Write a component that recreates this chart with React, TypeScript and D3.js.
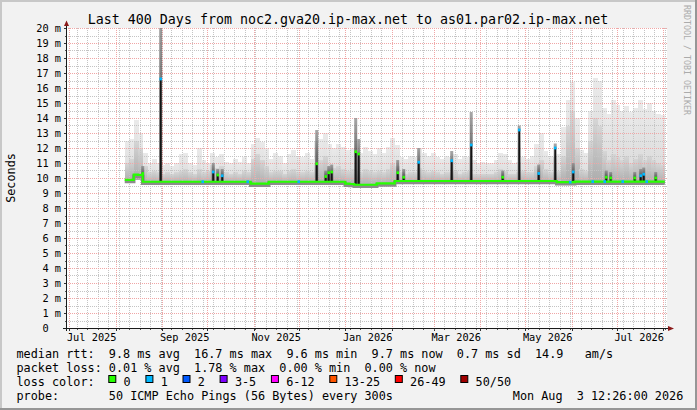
import React from 'react';
import * as d3 from 'd3';

// Last 400 days, ending Mon Aug 3 12:26:00 2026
const DAY = 86400000;
const END = Date.UTC(2026, 7, 3, 12, 26);
const START = END - 400 * DAY;

const title = 'Last 400 Days from noc2.gva20.ip-max.net to as01.par02.ip-max.net';

// y axis (milliseconds)
const yTicks = [0, 1, 2, 3, 4, 5, 6, 7, 8, 9, 10, 11, 12, 13, 14, 15, 16, 17, 18, 19, 20];

// x axis labels (every second month)
const xLabelMonths = ['2025-07-01', '2025-09-01', '2025-11-01', '2026-01-01', '2026-03-01', '2026-05-01', '2026-07-01'];

// smoke samples, one every 3 days from this date
const sampleStart = '2025-08-07';
const sampleStepDays = 3;

// median rtt per sample (ms)
const median = [
  9.87, 9.87, 10.22, 10.2, 9.75, 9.75, 9.75, 9.75, 9.75, 9.75,
  9.75, 9.75, 9.75, 9.75, 9.75, 9.75, 9.75, 9.75, 9.75, 9.75,
  9.75, 9.75, 9.75, 9.75, 9.75, 9.75, 9.75, 9.75, 9.62, 9.62,
  9.62, 9.62, 9.75, 9.75, 9.75, 9.75, 9.75, 9.75, 9.75, 9.75,
  9.75, 9.75, 9.75, 9.75, 9.75, 9.75, 9.75, 9.75, 9.75, 9.62,
  9.6, 9.55, 9.55, 9.55, 9.55, 9.55, 9.64, 9.64, 9.64, 9.64,
  9.8, 9.8, 9.8, 9.8, 9.8, 9.8, 9.8, 9.8, 9.8, 9.8,
  9.8, 9.8, 9.8, 9.8, 9.8, 9.8, 9.8, 9.8, 9.8, 9.8,
  9.8, 9.8, 9.8, 9.8, 9.8, 9.8, 9.8, 9.8, 9.8, 9.8,
  9.8, 9.8, 9.8, 9.8, 9.8, 9.8, 9.72, 9.72, 9.72, 9.72,
  9.76, 9.76, 9.76, 9.76, 9.76, 9.76, 9.76, 9.76, 9.76, 9.76,
  9.76, 9.76, 9.76, 9.76, 9.76, 9.76, 9.76, 9.76, 9.76, 9.76,
];

// lowest ping of the smoke per sample
const smokeLow = [
  9.72, 9.72, 9.9, 9.85, 9.58, 9.58, 9.58, 9.58, 9.58, 9.58,
  9.58, 9.58, 9.58, 9.58, 9.58, 9.58, 9.58, 9.58, 9.58, 9.58,
  9.58, 9.58, 9.58, 9.58, 9.58, 9.58, 9.58, 9.58, 9.45, 9.45,
  9.45, 9.45, 9.58, 9.58, 9.58, 9.58, 9.58, 9.58, 9.58, 9.58,
  9.58, 9.58, 9.58, 9.58, 9.58, 9.58, 9.58, 9.58, 9.58, 9.45,
  9.43, 9.38, 9.38, 9.38, 9.38, 9.38, 9.47, 9.47, 9.47, 9.47,
  9.62, 9.62, 9.62, 9.62, 9.62, 9.62, 9.62, 9.62, 9.62, 9.62,
  9.62, 9.62, 9.62, 9.62, 9.62, 9.62, 9.62, 9.62, 9.62, 9.62,
  9.62, 9.62, 9.62, 9.62, 9.62, 9.62, 9.62, 9.62, 9.62, 9.62,
  9.62, 9.62, 9.62, 9.62, 9.62, 9.62, 9.55, 9.55, 9.55, 9.55,
  9.58, 9.58, 9.58, 9.58, 9.58, 9.58, 9.58, 9.58, 9.58, 9.58,
  9.58, 9.58, 9.58, 9.58, 9.58, 9.58, 9.58, 9.58, 9.58, 9.58,
];

// densest part of the smoke per sample
const smokeMid = [
  11.0, 11.3, 12.5, 12.0, 10.8, 10.4, 10.5, 10.4, 10.3, 10.4,
  10.3, 10.4, 10.5, 10.6, 10.4, 10.3, 10.6, 10.4, 10.5, 10.9,
  10.7, 10.8, 10.4, 10.3, 10.4, 10.3, 10.5, 10.4, 11.3, 11.6,
  11.2, 10.8, 10.4, 10.5, 10.5, 10.3, 10.5, 10.6, 10.4, 10.4,
  10.5, 10.4, 11.0, 11.2, 11.5, 10.9, 10.7, 10.8, 10.6, 10.5,
  10.6, 10.5, 10.4, 10.6, 10.5, 10.4, 10.5, 10.4, 10.6, 11.0,
  10.8, 10.4, 10.3, 10.4, 10.4, 10.7, 10.5, 10.4, 10.5, 10.4,
  10.3, 10.4, 10.4, 10.5, 10.3, 10.4, 10.5, 10.3, 10.3, 10.3,
  10.3, 10.3, 10.4, 10.6, 10.5, 10.3, 10.3, 10.4, 10.5, 10.4,
  10.4, 10.8, 11.2, 10.6, 10.4, 10.4, 10.5, 11.5, 13.5, 14.5,
  12.0, 10.6, 10.5, 12.5, 14.0, 13.5, 11.8, 11.2, 11.6, 11.4,
  11.2, 11.5, 11.0, 11.3, 11.6, 11.2, 11.5, 11.2, 11.0, 10.9,
];

// highest ping of the smoke per sample
const smokeTop = [
  12.5, 12.6, 13.9, 13.0, 11.7, 11.0, 11.3, 11.0, 10.9, 11.0,
  10.8, 11.0, 11.6, 11.7, 11.0, 10.9, 12.0, 11.2, 11.0, 11.7,
  11.4, 11.6, 11.1, 11.0, 11.3, 11.1, 11.4, 11.0, 12.3, 12.7,
  12.4, 12.0, 11.3, 11.7, 11.5, 11.0, 11.6, 11.9, 11.5, 11.4,
  11.7, 11.3, 12.5, 12.6, 13.0, 12.3, 12.0, 12.3, 12.1, 11.9,
  12.0, 11.8, 11.7, 12.1, 11.8, 11.6, 12.0, 11.7, 12.1, 12.7,
  12.2, 11.4, 11.3, 11.5, 11.4, 12.0, 11.7, 11.5, 11.7, 11.4,
  11.3, 11.5, 11.4, 11.6, 11.3, 11.5, 11.4, 11.2, 11.0, 11.1,
  11.0, 11.0, 11.2, 11.7, 11.6, 11.2, 11.0, 11.1, 11.4, 11.3,
  11.5, 12.3, 13.0, 11.8, 11.5, 11.4, 11.6, 13.4, 15.2, 16.4,
  14.0, 11.9, 11.7, 14.5, 16.7, 16.5, 14.7, 14.3, 15.2, 14.9,
  14.5, 14.8, 14.4, 14.7, 15.2, 14.6, 15.0, 14.5, 14.3, 14.2,
];

// short median excursions
const spikeDates = [
  '2025-08-19', '2025-08-31', '2025-10-05', '2025-10-08', '2025-10-11',
  '2025-12-13', '2025-12-19', '2025-12-21', '2025-12-23', '2026-01-08',
  '2026-01-10', '2026-02-05', '2026-02-09', '2026-02-19', '2026-03-13',
  '2026-03-26', '2026-04-16', '2026-04-27', '2026-05-10', '2026-05-21',
  '2026-06-02', '2026-06-24', '2026-06-27', '2026-07-13', '2026-07-17',
  '2026-07-19', '2026-07-27',
];
const spikeTop = [
  10.3, 16.6, 10.4, 10.2, 10.15,
  10.95, 10.1, 10.35, 10.4, 11.75,
  11.6, 10.35, 10.05, 11.05, 11.15,
  12.2, 10.05, 13.2, 10.3, 12.0,
  10.4, 10.05, 10.0, 10.0, 10.15,
  10.25, 10.0,
];
const spikeSmoke = [
  10.8, 21.0, 11.0, 10.6, 10.6,
  13.2, 10.5, 10.8, 10.9, 14.0,
  12.6, 11.2, 10.6, 12.0, 11.8,
  14.4, 10.5, 13.5, 10.9, 12.3,
  11.0, 10.5, 10.4, 10.4, 10.6,
  10.7, 10.4,
];
const spikeLoss = [
  0, 1, 1, 0, 1,
  0, 0, 0, 0, 0,
  0, 0, 0, 1, 1,
  1, 0, 1, 1, 1,
  1, 0, 0, 0, 1,
  1, 0,
];

// single lost pings sitting on the median
const lossDotDates = ['2025-09-28', '2025-10-28', '2025-12-01', '2026-05-31', '2026-06-15', '2026-06-23', '2026-07-05', '2026-07-21'];

const lossColors = ['#26ff00', '#00b8ff', '#0059ff', '#7e00ff', '#ff00ff', '#ff5500', '#ff0000', '#a00000'];
const lossLabels = ['0', '1', '2', '3-5', '6-12', '13-25', '26-49', '50/50'];

const legendRtt = 'median rtt:  9.8 ms avg  16.7 ms max  9.6 ms min  9.7 ms now  0.7 ms sd  14.9   am/s';
const legendLoss = 'packet loss: 0.01 % avg  1.78 % max  0.00 % min  0.00 % now';
const legendProbe = 'probe:       50 ICMP Echo Pings (56 Bytes) every 300s';
const legendDate = 'Mon Aug  3 12:26:00 2026';

const W = 697;
const H = 410;
const MONO = '"DejaVu Sans Mono", monospace';
const CHAR = 7.1; // legend glyph advance

const App: React.FC = () => {
  const x = d3.scaleUtc().domain([new Date(START), new Date(END)]).range([67, 667]);
  const y = d3.scaleLinear().domain([0, 20]).range([328, 28]);
  const crisp = (v: number) => Math.round(v) + 0.5;
  const px = (v: number) => Math.round(v);

  const t0 = Date.parse(sampleStart);
  const step = sampleStepDays * DAY;
  const samples = median.map((m, i) => ({
    t: new Date(t0 + i * step),
    t1: new Date(t0 + (i + 1) * step),
    median: m,
    low: smokeLow[i],
    mid: smokeMid[i],
    top: smokeTop[i],
  }));
  const medianAt = (t: number) => {
    const i = Math.max(0, Math.min(median.length - 1, Math.floor((t - t0) / step)));
    return median[i];
  };

  const medianPts: [Date, number][] = samples.map((s) => [s.t, s.median]);
  medianPts.push([samples[samples.length - 1].t1, median[median.length - 1]]);
  const medianLine = d3
    .line<[Date, number]>()
    .x((d) => x(d[0]))
    .y((d) => y(d[1]))
    .curve(d3.curveStepAfter);

  const weeks = d3.utcSunday.range(new Date(START), new Date(END));
  const months = d3.utcMonth.range(new Date(START), new Date(END));
  const minorY = d3.range(0.5, 20, 1);
  const majorY = d3.range(1, 21, 1);
  const fmtMonth = d3.utcFormat('%b %Y');

  // loss legend boxes laid out by label length
  let lx = 108.3;
  const lossItems = lossLabels.map((label, i) => {
    const item = { label, color: lossColors[i], x: lx };
    lx += 30 + CHAR * label.length;
    return item;
  });

  return (
    <svg
      width={W}
      height={H}
      viewBox={`0 0 ${W} ${H}`}
      style={{ position: 'fixed', left: 0, top: 0, display: 'block' }}
      fontFamily={MONO}
    >
      <defs>
        <clipPath id="plot">
          <rect x={67} y={28} width={600} height={300} />
        </clipPath>
        <linearGradient id="smokeLight" x1="0" y1="0" x2="0" y2="1">
          <stop offset="0" stopColor="#eaeaea" />
          <stop offset="1" stopColor="#d8d8d8" />
        </linearGradient>
        <linearGradient id="smokeMid" x1="0" y1="0" x2="0" y2="1">
          <stop offset="0" stopColor="#d6d6d6" />
          <stop offset="1" stopColor="#ababab" />
        </linearGradient>
        <linearGradient id="spikeSmoke" x1="0" y1="0" x2="0" y2="1">
          <stop offset="0" stopColor="#8a8a8a" />
          <stop offset="0.45" stopColor="#4a4a4a" />
          <stop offset="1" stopColor="#222222" />
        </linearGradient>
        {/* dotted grid patterns: one pixel on, one pixel off */}
        <pattern id="dotHGray" patternUnits="userSpaceOnUse" width={2} height={1}>
          <rect x={0} y={0} width={1} height={1} fill="#c4c4c4" />
        </pattern>
        <pattern id="dotVGray" patternUnits="userSpaceOnUse" width={1} height={2}>
          <rect x={0} y={0} width={1} height={1} fill="#c4c4c4" />
        </pattern>
        <pattern id="dotHRed" patternUnits="userSpaceOnUse" width={2} height={1}>
          <rect x={0} y={0} width={1} height={1} fill="#f0a6a6" />
        </pattern>
        <pattern id="dotVRed" patternUnits="userSpaceOnUse" width={1} height={2}>
          <rect x={0} y={0} width={1} height={1} fill="#f0a6a6" />
        </pattern>
      </defs>

      {/* background and 3d frame */}
      <rect x={0} y={0} width={W} height={H} fill="#f2f2f2" />
      <rect x={0} y={0} width={W} height={2} fill="#c8c8c8" />
      <rect x={0} y={0} width={2} height={H} fill="#c8c8c8" />
      <rect x={0} y={H - 2} width={W} height={2} fill="#969696" />
      <rect x={W - 2} y={0} width={2} height={H} fill="#969696" />

      {/* canvas */}
      <rect x={67} y={28} width={600} height={300} fill="#ffffff" />

      <g clipPath="url(#plot)" shapeRendering="crispEdges">
        {samples.map((s, i) => (
          <rect
            key={`l${i}`}
            x={x(s.t)}
            y={y(s.top)}
            width={x(s.t1) - x(s.t) + 0.3}
            height={y(s.low) - y(s.top)}
            fill="url(#smokeLight)"
          />
        ))}
        {samples.map((s, i) => (
          <rect
            key={`m${i}`}
            x={x(s.t)}
            y={y(s.mid)}
            width={x(s.t1) - x(s.t) + 0.3}
            height={y(s.low) - y(s.mid)}
            fill="url(#smokeMid)"
          />
        ))}
      </g>

      {/* grid */}
      <g shapeRendering="crispEdges">
        {minorY.map((v) => (
          <rect key={`hy${v}`} x={67} y={px(y(v))} width={600} height={1} fill="url(#dotHGray)" />
        ))}
        {weeks.map((d) => (
          <rect key={`vw${+d}`} x={px(x(d))} y={28} width={1} height={300} fill="url(#dotVGray)" />
        ))}
        {majorY.map((v) => (
          <rect key={`hm${v}`} x={67} y={px(y(v))} width={600} height={1} fill="url(#dotHRed)" />
        ))}
        {months.map((d) => (
          <rect key={`vm${+d}`} x={px(x(d))} y={28} width={1} height={300} fill="url(#dotVRed)" />
        ))}
      </g>

      {/* spikes, median and loss colours */}
      <g clipPath="url(#plot)">
        {spikeDates.map((d, i) => {
          const t = Date.parse(d);
          const base = medianAt(t);
          const x0 = x(new Date(t - DAY));
          const x1 = x(new Date(t + DAY));
          return (
            <rect
              key={`ss${i}`}
              x={x0}
              y={y(spikeSmoke[i])}
              width={x1 - x0}
              height={y(base) - y(spikeSmoke[i])}
              fill="url(#spikeSmoke)"
              opacity={0.75}
            />
          );
        })}
        <path d={medianLine(medianPts) ?? ''} fill="none" stroke="#8c8c8c" strokeWidth={3.5} transform="translate(0,1.6)" />
        {spikeDates.map((d, i) => {
          const t = Date.parse(d);
          const sx = x(new Date(t));
          return (
            <line
              key={`sp${i}`}
              x1={sx}
              x2={sx}
              y1={y(medianAt(t))}
              y2={y(spikeTop[i])}
              stroke="#151515"
              strokeWidth={1.6}
            />
          );
        })}
        <path d={medianLine(medianPts) ?? ''} fill="none" stroke={lossColors[0]} strokeWidth={2.2} />
        {spikeDates.map((d, i) => {
          const sx = x(new Date(Date.parse(d)));
          return (
            <rect
              key={`sd${i}`}
              x={sx - 1.3}
              y={y(spikeTop[i]) - 1.4}
              width={2.6}
              height={2.8}
              fill={lossColors[spikeLoss[i]]}
            />
          );
        })}
        {lossDotDates.map((d) => {
          const t = Date.parse(d);
          return (
            <rect key={`ld${d}`} x={x(new Date(t)) - 1.3} y={y(medianAt(t)) - 1.4} width={2.6} height={2.8} fill={lossColors[1]} />
          );
        })}
      </g>

      {/* axes */}
      <g shapeRendering="crispEdges">
        {majorY.map((v) => (
          <line key={`ty${v}`} x1={64} x2={67} y1={crisp(y(v))} y2={crisp(y(v))} stroke="#333" />
        ))}
        {minorY.map((v) => (
          <line key={`tm${v}`} x1={65} x2={67} y1={crisp(y(v))} y2={crisp(y(v))} stroke="#555" />
        ))}
        {months.map((d) => (
          <line key={`tx${+d}`} x1={crisp(x(d))} x2={crisp(x(d))} y1={328} y2={331} stroke="#333" />
        ))}
        {weeks.map((d) => (
          <line key={`tw${+d}`} x1={crisp(x(d))} x2={crisp(x(d))} y1={328} y2={330} stroke="#555" />
        ))}
        <line x1={66.5} x2={66.5} y1={24} y2={331} stroke="#1a1a1a" />
        <line x1={63} x2={670} y1={328.5} y2={328.5} stroke="#1a1a1a" />
      </g>
      <path d="M64,26 L66.5,20.5 L69,26 Z" fill="#8b1a1a" />
      <path d="M668,326 L674,328.5 L668,331 Z" fill="#8b1a1a" />

      {/* y labels */}
      <g fontSize={10.3} fill="#000">
        {yTicks.map((v) =>
          v === 0 ? (
            <text key={`yl${v}`} x={48.6} y={y(v) + 3.6} textAnchor="end">
              0
            </text>
          ) : (
            <text key={`yl${v}`} x={61} y={y(v) + 3.6} textAnchor="end">
              {`${v} m`}
            </text>
          )
        )}
      </g>

      {/* x labels, centred half a month after the month start */}
      <g fontSize={10.3} fill="#000" textAnchor="middle">
        {xLabelMonths.map((m) => {
          const d = new Date(Date.parse(m));
          return (
            <text key={m} x={x(new Date(+d + 15 * DAY))} y={341}>
              {fmtMonth(d)}
            </text>
          );
        })}
      </g>

      {/* titles */}
      <text x={348} y={23.5} fontSize={13.3} textAnchor="middle" fill="#000" style={{ whiteSpace: 'pre' }}>
        {title}
      </text>
      <text transform="translate(15,178) rotate(-90)" fontSize={11.8} textAnchor="middle" fill="#000">
        Seconds
      </text>
      <text transform="translate(684.3,5) rotate(90)" fontSize={8.3} fill="#ababab" style={{ whiteSpace: 'pre' }}>
        RRDTOOL / TOBI OETIKER
      </text>

      {/* legend */}
      <g fontSize={11.8} fill="#000" style={{ whiteSpace: 'pre' }}>
        <text x={16.5} y={358} xmlSpace="preserve">
          {legendRtt}
        </text>
        <text x={16.5} y={372} xmlSpace="preserve">
          {legendLoss}
        </text>
        <text x={16.5} y={386} xmlSpace="preserve">
          loss color:
        </text>
        {lossItems.map((it) => (
          <g key={it.label}>
            <rect x={it.x + 0.5} y={375.5} width={7} height={7} fill={it.color} stroke="#000" strokeWidth={1} />
            <text x={it.x + 15.3} y={386}>
              {it.label}
            </text>
          </g>
        ))}
        <text x={16.5} y={400} xmlSpace="preserve">
          {legendProbe}
        </text>
        <text x={512.8} y={400} xmlSpace="preserve">
          {legendDate}
        </text>
      </g>
    </svg>
  );
};

export default App;
